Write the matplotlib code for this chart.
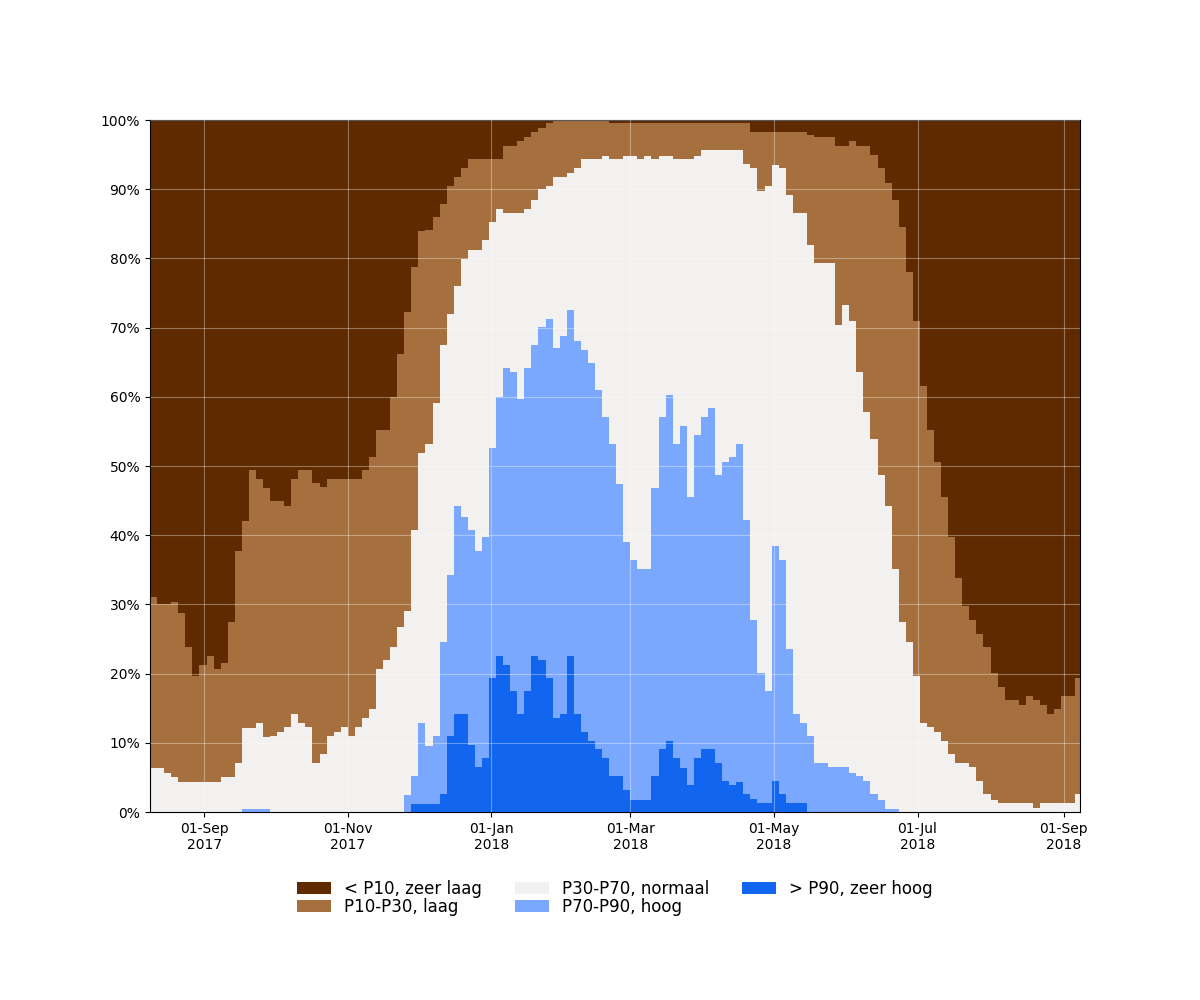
import numpy as np
import pandas as pd
import matplotlib
matplotlib.use("Agg")
import matplotlib.pyplot as plt
import matplotlib.dates as mdates
from matplotlib.patches import Patch

# 3-daagse waarden, cumulatief (bovengrens van elke klasse, % van meetpunten)
dates = pd.date_range("2017-08-09", periods=132, freq="3D")

top_zeer_hoog = [
    0, 0, 0, 0, 0, 0, 0, 0, 0, 0, 0, 0,
    0, 0, 0, 0, 0, 0, 0, 0, 0, 0, 0, 0,
    0, 0, 0, 0, 0, 0, 0, 0, 0, 0, 0, 0, 0,
    1.2, 1.2, 1.2, 1.2, 2.6, 11.0, 14.2, 14.2, 9.7, 6.5, 7.8, 19.4,
    22.6, 21.3, 17.5, 14.2, 17.5, 22.6, 22.0, 19.4, 13.6, 14.2, 22.6, 14.2,
    11.6, 10.3, 9.1, 7.8, 5.2, 5.2, 3.2, 1.8, 1.8, 1.8, 5.2, 9.1,
    10.3, 7.8, 6.3, 3.9, 7.8, 9.1, 9.1, 7.1, 4.5, 3.9, 4.4, 2.6,
    1.9, 1.3, 1.3, 4.5, 2.6, 1.3, 1.3, 1.3,
    0, 0, 0, 0, 0, 0, 0, 0, 0, 0, 0, 0, 0,
    0, 0, 0, 0, 0, 0, 0, 0, 0, 0, 0, 0, 0,
    0, 0, 0, 0, 0, 0, 0, 0, 0, 0, 0, 0, 0,
]

top_hoog = [
    0, 0, 0, 0, 0, 0, 0, 0, 0, 0, 0, 0, 0,
    0.5, 0.5, 0.5, 0.5,
    0, 0, 0, 0, 0, 0, 0, 0, 0, 0, 0, 0, 0, 0, 0, 0, 0, 0, 0,
    2.5, 5.2, 12.9, 9.6, 11.0, 24.6, 34.3, 44.2, 42.7, 40.8, 37.7, 39.7,
    52.6, 60.0, 64.2, 63.6, 59.7, 64.2, 67.5, 70.1, 71.3, 67.1, 68.8, 72.6,
    68.1, 66.8, 64.9, 61.0, 57.1, 53.2, 47.4, 39.0, 36.4, 35.1, 35.1, 46.8,
    57.1, 60.3, 53.2, 55.8, 45.5, 54.5, 57.1, 58.4, 48.7, 50.6, 51.3, 53.2,
    42.2, 27.8, 20.1, 17.5, 38.4, 36.4, 23.5, 14.2, 12.9, 11.0, 7.1, 7.1,
    6.5, 6.5, 6.5, 5.7, 5.2, 4.5, 2.6, 1.8, 0.5, 0.5,
    0, 0, 0, 0, 0, 0, 0, 0, 0, 0, 0, 0, 0,
    0, 0, 0, 0, 0, 0, 0, 0, 0, 0, 0, 0, 0,
]

top_normaal = [
    6.3, 6.3, 5.7, 5.0, 4.4, 4.4, 4.4, 4.4, 4.4, 4.4,
    5.0, 5.0, 7.1, 12.2, 12.2, 12.9, 10.9, 11.0, 11.6, 12.3,
    14.2, 12.9, 12.3, 7.1, 8.4, 11.0, 11.6, 12.3, 11.0, 12.3,
    13.6, 14.9, 20.7, 22.0, 23.9, 26.7, 29.1, 40.8, 51.9, 53.2,
    59.1, 67.5, 72.0, 76.0, 79.9, 81.2, 81.2, 82.7, 85.3, 87.2,
    86.5, 86.5, 86.5, 87.2, 88.5, 90.0, 90.4, 91.7, 91.7, 92.4,
    93.0, 94.3, 94.3, 94.3, 94.8, 94.3, 94.3, 94.8, 94.8, 94.3,
    94.8, 94.3, 94.8, 94.8, 94.3, 94.3, 94.3, 94.8, 95.6, 95.6,
    95.6, 95.6, 95.6, 95.6, 93.7, 93.0, 89.8, 90.4, 93.5, 93.0,
    89.1, 86.5, 86.5, 82.0, 79.4, 79.4, 79.4, 70.4, 73.3, 71.0,
    63.6, 57.8, 53.9, 48.7, 44.2, 35.1, 27.4, 24.6, 19.6, 12.9,
    12.3, 11.6, 10.3, 8.4, 7.1, 7.1, 6.5, 4.5, 2.6, 1.8,
    1.3, 1.3, 1.3, 1.3, 1.3, 0.6, 1.3, 1.3, 1.3, 1.3,
    1.3, 2.6,
]

top_laag = [
    31.1, 30.1, 30.1, 30.3, 28.7, 23.9, 19.6, 21.3, 22.5, 20.6,
    21.5, 27.4, 37.7, 42.1, 49.4, 48.1, 46.8, 45.0, 45.0, 44.2,
    48.1, 49.4, 49.4, 47.6, 46.9, 48.1, 48.1, 48.1, 48.1, 48.1,
    49.4, 51.3, 55.2, 55.2, 60.0, 66.2, 72.3, 78.8, 83.9, 84.1,
    86.0, 87.8, 90.4, 91.7, 93.1, 94.3, 94.3, 94.3, 94.3, 94.3,
    96.3, 96.3, 97.0, 97.5, 98.2, 98.8, 99.5, 100, 100, 100,
    100, 100, 100, 100, 100, 99.5, 99.5, 99.5, 99.5, 99.5,
    99.5, 99.5, 99.5, 99.5, 99.5, 99.5, 99.5, 99.5, 99.5, 99.5,
    99.5, 99.5, 99.5, 99.5, 99.5, 98.2, 98.2, 98.2, 98.2, 98.2,
    98.2, 98.2, 98.2, 97.9, 97.5, 97.5, 97.5, 96.3, 96.3, 96.9,
    96.3, 96.3, 95.0, 93.0, 90.9, 88.4, 84.5, 78.0, 70.9, 61.6,
    55.2, 50.6, 45.5, 39.7, 33.8, 29.8, 27.7, 25.7, 23.8, 20.1,
    18.1, 16.2, 16.2, 15.5, 16.8, 16.2, 15.5, 14.2, 14.9, 16.8,
    16.8, 19.4,
]

labels = ["< P10, zeer laag", "P10-P30, laag", "P30-P70, normaal",
          "P70-P90, hoog", "> P90, zeer hoog"]
colors = ["#5f2a00", "#a5703d", "#f2f1ef", "#7ba8ff", "#1165ee"]

x = mdates.date2num(dates)
bounds = [np.zeros(len(x)), np.array(top_zeer_hoog), np.array(top_hoog),
          np.array(top_normaal), np.array(top_laag), np.full(len(x), 100.0)]
band_colors = colors[::-1]  # van onder naar boven

fig = plt.figure(figsize=(12, 10), dpi=100)
ax = fig.add_axes([0.125, 0.188, 0.775, 0.692])

for i in range(5):
    ax.bar(x, bounds[i + 1] - bounds[i], bottom=bounds[i], width=3,
           align="edge", color=band_colors[i], linewidth=0, antialiased=False)

ax.set_xlim(mdates.date2num(pd.Timestamp("2017-08-09")),
            mdates.date2num(pd.Timestamp("2018-09-08")))
ax.set_ylim(0, 100)
ax.set_yticks(range(0, 101, 10))
ax.set_yticklabels([f"{v}%" for v in range(0, 101, 10)])
ax.xaxis.set_major_locator(mdates.MonthLocator(bymonth=[1, 3, 5, 7, 9, 11]))
ax.xaxis.set_major_formatter(mdates.DateFormatter("%d-%b\n%Y"))
for lbl in ax.get_xticklabels():
    lbl.set_horizontalalignment("center")

ax.set_axisbelow(False)
ax.grid(True, color="white", alpha=0.35, linewidth=0.8)

handles = [Patch(facecolor=c, label=l) for c, l in zip(colors, labels)]
ax.legend(handles=handles, loc="upper center", bbox_to_anchor=(0.5, -0.076),
          ncol=3, frameon=False, fontsize=12, labelspacing=0.0)

fig.savefig("out.png", dpi=100)
